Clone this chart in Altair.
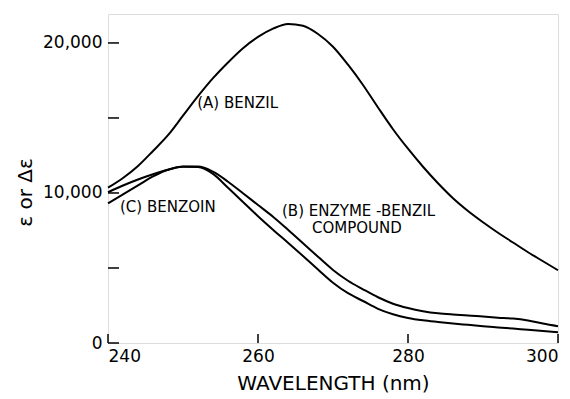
import altair as alt
import pandas as pd

wavelength = [240, 242, 244, 246, 248, 250, 252, 254, 256, 258, 260, 262, 264, 266, 268, 270,
              272, 274, 276, 278, 280, 282, 284, 286, 288, 290, 292, 294, 296, 298, 300]

benzil = [10350, 11000, 11800, 12800, 13850, 15150, 16450, 17650, 18700, 19650, 20400, 20950,
          21270, 21150, 20600, 19750, 18550, 17200, 15700, 14250, 12950, 11750, 10650, 9650,
          8800, 8050, 7350, 6700, 6050, 5450, 4850]

enzyme_benzil = [10050, 10500, 10900, 11250, 11550, 11760, 11760, 11420, 10750, 9980, 9200, 8420,
                 7550, 6650, 5750, 4870, 4150, 3580, 3050, 2620, 2330, 2120, 1980, 1900, 1840,
                 1760, 1690, 1630, 1500, 1300, 1120]

benzoin = [9300, 9900, 10500, 11100, 11550, 11750, 11730, 11270, 10350, 9400, 8450, 7550,
           6680, 5800, 4900, 4020, 3320, 2800, 2280, 1920, 1670, 1510, 1400, 1300, 1210,
           1120, 1040, 960, 880, 800, 720]

series_names = ["A", "B", "C"]

x_ticks = [240, 260, 280, 300]
y_ticks = [0, 5000, 10000, 15000, 20000]
y_labels = [0, 10000, 20000]

label_text = ["(A)  BENZIL", "(C)  BENZOIN", "(B)  ENZYME -BENZIL", "COMPOUND"]
label_x = [251.9, 241.6, 263.2, 267.2]
label_y = [16000, 9070, 8780, 7650]

FONT = "DejaVu Sans"
W, H = 450, 329

rows = []
for name, vals in zip(series_names, [benzil, enzyme_benzil, benzoin]):
    for w, v in zip(wavelength, vals):
        rows.append({"wl": w, "val": v, "series": name})
df = pd.DataFrame(rows)

xscale = alt.Scale(domain=[240, 300], nice=False, zero=False)
yscale = alt.Scale(domain=[0, 21930], nice=False)

lines = alt.Chart(df).mark_line(color="black", strokeWidth=2, interpolate="monotone").encode(
    x=alt.X("wl:Q", scale=xscale,
            axis=alt.Axis(values=x_ticks, format="d", tickSize=0, domain=False, grid=False,
                          labelFont=FONT, labelFontSize=17, labelColor="black", labelPadding=5,
                          title="WAVELENGTH  (nm)", titleFont=FONT, titleFontSize=20,
                          titleFontWeight="normal", titleColor="black",
                          titleBaseline="alphabetic", titleY=46)),
    y=alt.Y("val:Q", scale=yscale,
            axis=alt.Axis(values=y_labels, format=",d", tickSize=0, domain=False, grid=False,
                          labelFont=FONT, labelFontSize=17, labelColor="black", labelPadding=6,
                          title="ε or Δε", titleFont=FONT, titleFontSize=20,
                          titleFontWeight="normal", titleColor="black",
                          titleBaseline="middle", titleAlign="center", titleAngle=270,
                          titleX=-83, titleY=178)),
    detail="series:N",
)

ytick_df = pd.DataFrame({"v": y_ticks})
yt = alt.Chart(ytick_df).mark_rule(color="black", strokeWidth=1.5).encode(
    y=alt.Y("v:Q", scale=yscale),
    x=alt.value(0), x2=alt.value(11),
)

xtick_df = pd.DataFrame({"w": x_ticks})
xt = alt.Chart(xtick_df).mark_rule(color="black", strokeWidth=1.5).encode(
    x=alt.X("w:Q", scale=xscale),
    y=alt.value(H), y2=alt.value(H - 9),
)

lab_df = pd.DataFrame({"t": label_text, "x": label_x, "y": label_y})
labels = alt.Chart(lab_df).mark_text(font=FONT, fontSize=15, align="left", baseline="middle",
                                     color="black").encode(
    x=alt.X("x:Q", scale=xscale), y=alt.Y("y:Q", scale=yscale), text="t:N")

chart = alt.layer(lines, yt, xt, labels).properties(
    width=W, height=H,
    autosize=alt.AutoSizeParams(type="none"),
    padding={"left": 100, "top": 6, "right": 4, "bottom": 50},
).configure_view(stroke="#222", strokeWidth=1.5).configure(background="white")

chart.save("out.html", embed_options={"renderer": "svg", "actions": False})
